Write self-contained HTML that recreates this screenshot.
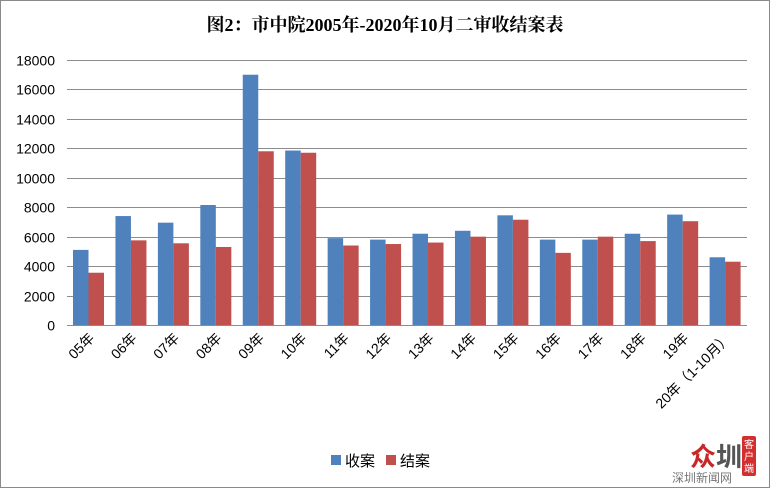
<!DOCTYPE html>
<html><head><meta charset="utf-8"><style>
body{margin:0;background:#fff}
svg{display:block}
</style></head><body>
<svg width="770" height="488" xmlns="http://www.w3.org/2000/svg" font-family="'Liberation Sans','Noto Sans CJK SC',sans-serif">
<rect x="0.5" y="0.5" width="769" height="487" fill="#fff" stroke="#8a8a8a"/>
<text x="385" y="31" text-anchor="middle" font-size="18" font-weight="bold" font-family="'Liberation Serif','Noto Serif CJK SC',serif">图2：市中院2005年-2020年10月二审收结案表</text>
<g id="grid" stroke="#8c8c8c" stroke-width="1"></g>
<g id="bars"></g>
<g id="ylab" font-size="14" text-anchor="end" fill="#000"></g>
<g id="xlab" font-size="14" fill="#000"></g>
<rect x="331" y="455" width="10" height="10" fill="#4f81bd"/>
<text x="345" y="466" font-size="15">收案</text>
<rect x="386" y="455" width="10" height="10" fill="#c0504d"/>
<text x="400" y="466" font-size="15">结案</text>
<text x="690" y="466" font-size="26" font-weight="bold" fill="#c62828">众</text>
<text x="716" y="466" font-size="26" font-weight="bold" fill="#555">圳</text>
<rect x="742" y="436" width="14" height="40" rx="2" fill="#d32f2f"/>
<text x="749" y="448" font-size="10" fill="#fff" text-anchor="middle">客</text>
<text x="749" y="460" font-size="10" fill="#fff" text-anchor="middle">户</text>
<text x="749" y="472" font-size="10" fill="#fff" text-anchor="middle">端</text>
<text x="672" y="482" font-size="12" fill="#777">深圳新闻网</text>
</svg>
<script>
const ns="http://www.w3.org/2000/svg";
function el(t,a,txt){const e=document.createElementNS(ns,t);for(const k in a)e.setAttribute(k,a[k]);if(txt)e.textContent=txt;return e;}
const y0=325,s=265/18000,x0=67,cw=42.44;
const g=document.getElementById('grid'),yl=document.getElementById('ylab');
for(let v=0;v<=18000;v+=2000){const y=Math.round(y0-v*s)+0.5;g.appendChild(el('line',{x1:x0,x2:747,y1:y,y2:y}));yl.appendChild(el('text',{x:55,y:y+5},String(v)));}
const blue=[5100,7400,6950,8150,17000,11850,5900,5800,6200,6400,7450,5800,5800,6200,7500,4600];
const red=[3550,5750,5550,5300,11800,11700,5400,5500,5600,6000,7150,4900,6000,5700,7050,4300];
const labs=["05年","06年","07年","08年","09年","10年","11年","12年","13年","14年","15年","16年","17年","18年","19年","20年（1-10月）"];
const b=document.getElementById('bars'),xl=document.getElementById('xlab');
for(let i=0;i<16;i++){const cx=x0+i*cw;
b.appendChild(el('rect',{x:cx+6,y:y0-blue[i]*s,width:15.5,height:blue[i]*s,fill:'#4f81bd'}));
b.appendChild(el('rect',{x:cx+21.5,y:y0-red[i]*s,width:15.5,height:red[i]*s,fill:'#c0504d'}));
const tx=cx+cw/2+7,ty=339;
xl.appendChild(el('text',{x:tx,y:ty,'text-anchor':'end',transform:`rotate(-45 ${tx} ${ty})`},labs[i]));}
</script>
</body></html>
